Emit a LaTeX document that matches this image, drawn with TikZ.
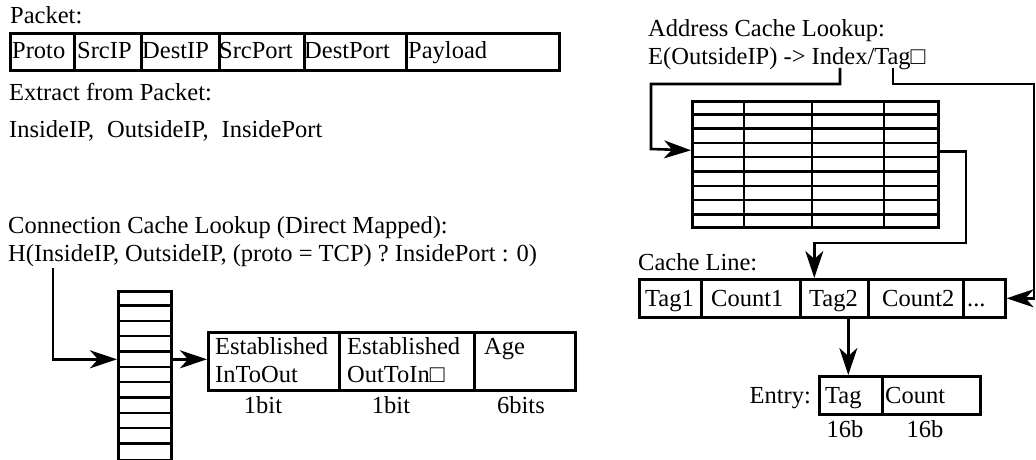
\documentclass[tikz,border=0pt]{standalone}
\usepackage{fontspec}
\setmainfont{Liberation Serif}
\usetikzlibrary{arrows.meta}
\begin{document}
\begin{tikzpicture}[x=1pt,y=-1pt,
  font=\fontsize{24.5}{29}\selectfont,
  cell/.style={draw, line width=2.6pt, inner sep=0pt, anchor=north west},
  txt/.style={inner sep=0pt, anchor=base west},
  ctxt/.style={inner sep=0pt, anchor=base},
  conn/.style={line width=2.6pt, -{Stealth[length=27pt,width=18pt,inset=8pt]}},
  gridline/.style={line width=2.4pt}]
\useasboundingbox (0,0) rectangle (1036,460);

% ---------- Packet ----------
\node[txt] (tpacket) at (10,24) {Packet:};
\node[cell, minimum width=64, minimum height=37] (pproto) at (9,32) {};
\node[cell, minimum width=67, minimum height=37] (psrcip) at (73,32) {};
\node[cell, minimum width=78, minimum height=37] (pdstip) at (140,32) {};
\node[cell, minimum width=85, minimum height=37] (psrcport) at (218,32) {};
\node[cell, minimum width=102, minimum height=37] (pdstport) at (303,32) {};
\node[cell, minimum width=153, minimum height=37] (ppay) at (405,32) {};
\node[txt] (tproto) at (12,59) {Proto};
\node[txt] (tsrcip) at (77,59) {SrcIP};
\node[txt] (tdstip) at (142,59) {DestIP};
\node[txt] (tsrcport) at (219,59) {SrcPort};
\node[txt] (tdstport) at (304,59) {DestPort};
\node[txt] (tpay) at (408,59) {Payload};

\node[txt] (textract) at (9,100) {Extract from Packet:};
\node[txt] (tfields) at (9,137) {InsideIP,\hspace{13pt}OutsideIP,\hspace{13pt}InsidePort};

% ---------- Connection cache ----------
\node[txt] (tconn) at (8,233) {Connection Cache Lookup (Direct Mapped):};
\node[txt] (thash) at (8,261) {H(InsideIP, OutsideIP, (proto = TCP) ? InsidePort : 0)};
\coordinate (hsrc) at (53,268);

\node[cell, minimum width=53, minimum height=169] (carr) at (117,290) {};
\foreach \i in {1,...,10}
  \draw[gridline] (117,290+\i*15.36) -- (170,290+\i*15.36);

\node[cell, minimum width=131, minimum height=58] (est1) at (207,331) {};
\node[cell, minimum width=135, minimum height=58] (est2) at (338,331) {};
\node[cell, minimum width=101, minimum height=58] (est3) at (473,331) {};
\node[txt] (te1a) at (215,354) {Established};
\node[txt] (te1b) at (215,382) {InToOut};
\node[txt] (te2a) at (347,354) {Established};
\node[txt] (te2b) at (347,382) {OutToIn□};
\node[txt] (te3) at (484,354) {Age};
\node[ctxt] (tb1) at (263,413) {1bit};
\node[ctxt] (tb2) at (391,413) {1bit};
\node[ctxt] (tb3) at (521,413) {6bits};

\draw[conn] (hsrc) |- ([yshift=16.5pt]carr.west);
\draw[conn] ([yshift=16.5pt]carr.east) -- ([yshift=16.5pt]carr.east -| est1.west);

% ---------- Address cache ----------
\node[txt] (taddr) at (648,37) {Address Cache Lookup:};
\node[txt] (tenc) at (648,65) {E(OutsideIP) -> Index/Tag□};
\coordinate (idx) at (840,68);
\coordinate (tag) at (893,68);

\node[cell, minimum width=246, minimum height=126] (tbl) at (691,100) {};
\foreach \i in {1,...,8}
  \draw[gridline] (691,100+\i*14.3) -- (937,100+\i*14.3);
\foreach \x in {744,812,884}
  \draw[gridline] (\x,100) -- (\x,226);

\node[txt] (tcline) at (638,270) {Cache Line:};
\node[cell, minimum width=62, minimum height=38] (ctag1) at (638,278) {};
\node[cell, minimum width=99, minimum height=38] (ccnt1) at (700,278) {};
\node[cell, minimum width=68, minimum height=38] (ctag2) at (799,278) {};
\node[cell, minimum width=95, minimum height=38] (ccnt2) at (867,278) {};
\node[cell, minimum width=42, minimum height=38] (cdots) at (962,278) {};
\node[txt] (tt1) at (645,306) {Tag1};
\node[txt] (tc1) at (711,306) {Count1};
\node[txt] (tt2) at (809,306) {Tag2};
\node[txt] (tc2) at (882,306) {Count2};
\node[txt] (tdots) at (967,306) {...};

\node[inner sep=0pt, anchor=base east] (tentry) at (811,403) {Entry:};
\node[cell, minimum width=63, minimum height=38] (etag) at (818,375) {};
\node[cell, minimum width=98, minimum height=38] (ecnt) at (881,375) {};
\node[txt] (tet) at (825,403) {Tag};
\node[txt] (tec) at (885,403) {Count};
\node[ctxt] (t16a) at (845,437) {16b};
\node[ctxt] (t16b) at (925,437) {16b};

\draw[conn] (idx) -- ++(0,16) -| (651,149) -- ([yshift=14pt]tbl.west);
\draw[conn] ([yshift=13pt]tbl.east) -| (966,243) -| ([xshift=-20pt]ctag2.north);
\draw[conn] (tag) |- (1034,84) |- (cdots.east);
\draw[conn] ([xshift=14pt]ctag2.south) -- ([xshift=14pt]ctag2.south |- etag.north);
\end{tikzpicture}
\end{document}
